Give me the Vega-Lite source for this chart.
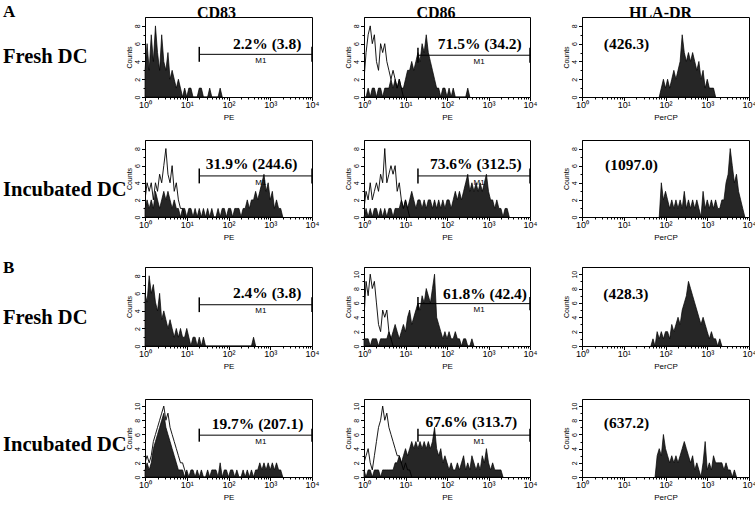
{
"$schema":"https://vega.github.io/schema/vega-lite/v6.json",
"background":"white",
"padding":{"left":3,"top":3,"right":0,"bottom":0},
"config":{
 "view":{"stroke":"#000","strokeWidth":1},
 "title":{"font":"Liberation Serif","fontWeight":"bold","fontSize":16,"color":"#000","offset":-4},
 "axis":{"grid":false,"domainColor":"#000","tickColor":"#000","labelColor":"#000","titleColor":"#000","labelFont":"Liberation Sans","titleFont":"Liberation Sans","titleFontWeight":"normal","labelOverlap":false,"labelFlush":false},
 "axisX":{"labelFontSize":9,"labelPadding":0,"tickSize":3.5,"titleFontSize":8,"titlePadding":4},
 "axisY":{"labelAngle":270,"labelAlign":"center","labelBaseline":"bottom","labelFontSize":7,"labelPadding":1,"tickSize":3.5,"titleFontSize":7,"titlePadding":1},
 "area":{"fill":"#262626","stroke":"#000","strokeWidth":0.7,"clip":true}
},
"datasets":{
"ann":[
{"p":"a1","gate":"M1","lo":26,"hi":80,"txt":"2.2% (3.8)"},
{"p":"a2","gate":"M1","lo":26,"hi":80,"txt":"71.5% (34.2)"},
{"p":"a3","txt":"(426.3)"},
{"p":"b1","gate":"M1","lo":26,"hi":80,"txt":"31.9% (244.6)"},
{"p":"b2","gate":"M1","lo":26,"hi":80,"txt":"73.6% (312.5)"},
{"p":"b3","txt":"(1097.0)"},
{"p":"c1","gate":"M1","lo":26,"hi":80,"txt":"2.4% (3.8)"},
{"p":"c2","gate":"M1","lo":26,"hi":80,"txt":"61.8% (42.4)"},
{"p":"c3","txt":"(428.3)"},
{"p":"d1","gate":"M1","lo":26,"hi":80,"txt":"19.7% (207.1)"},
{"p":"d2","gate":"M1","lo":26,"hi":80,"txt":"67.6% (313.7)"},
{"p":"d3","txt":"(637.2)"}
],
"h":[
{"p":"a1","s":"f","c":0,"n":3},{"p":"a1","s":"f","c":1,"n":6},{"p":"a1","s":"f","c":2,"n":3},{"p":"a1","s":"f","c":3,"n":7},{"p":"a1","s":"f","c":4,"n":4},{"p":"a1","s":"f","c":5,"n":8},{"p":"a1","s":"f","c":6,"n":5},{"p":"a1","s":"f","c":7,"n":3},{"p":"a1","s":"f","c":8,"n":7},{"p":"a1","s":"f","c":9,"n":4},{"p":"a1","s":"f","c":10,"n":3},{"p":"a1","s":"f","c":11,"n":5},{"p":"a1","s":"f","c":12,"n":2},{"p":"a1","s":"f","c":13,"n":3},{"p":"a1","s":"f","c":14,"n":2},{"p":"a1","s":"f","c":15,"n":1},{"p":"a1","s":"f","c":16,"n":2},{"p":"a1","s":"f","c":17,"n":1},{"p":"a1","s":"f","c":18,"n":0},{"p":"a1","s":"f","c":19,"n":1},{"p":"a1","s":"f","c":20,"n":0},{"p":"a1","s":"f","c":21,"n":1},{"p":"a1","s":"f","c":22,"n":1},{"p":"a1","s":"f","c":23,"n":0},{"p":"a1","s":"f","c":25,"n":0},{"p":"a1","s":"f","c":26,"n":1},{"p":"a1","s":"f","c":27,"n":1},{"p":"a1","s":"f","c":28,"n":0},{"p":"a1","s":"f","c":30,"n":0},{"p":"a1","s":"f","c":31,"n":1},{"p":"a1","s":"f","c":32,"n":0},{"p":"a1","s":"f","c":35,"n":0},{"p":"a1","s":"f","c":36,"n":1},{"p":"a1","s":"f","c":37,"n":0},
{"p":"a2","s":"o","c":0,"n":2},{"p":"a2","s":"o","c":1,"n":5},{"p":"a2","s":"o","c":2,"n":7},{"p":"a2","s":"o","c":3,"n":8},{"p":"a2","s":"o","c":4,"n":6},{"p":"a2","s":"o","c":5,"n":7},{"p":"a2","s":"o","c":6,"n":4},{"p":"a2","s":"o","c":7,"n":3},{"p":"a2","s":"o","c":8,"n":6},{"p":"a2","s":"o","c":9,"n":5},{"p":"a2","s":"o","c":10,"n":6},{"p":"a2","s":"o","c":11,"n":4},{"p":"a2","s":"o","c":12,"n":3},{"p":"a2","s":"o","c":13,"n":2},{"p":"a2","s":"o","c":14,"n":3},{"p":"a2","s":"o","c":15,"n":2},{"p":"a2","s":"o","c":16,"n":1},{"p":"a2","s":"o","c":17,"n":2},{"p":"a2","s":"o","c":18,"n":1},{"p":"a2","s":"o","c":19,"n":0},
{"p":"a2","s":"f","c":0,"n":0},{"p":"a2","s":"f","c":1,"n":0},{"p":"a2","s":"f","c":2,"n":1},{"p":"a2","s":"f","c":3,"n":0},{"p":"a2","s":"f","c":4,"n":1},{"p":"a2","s":"f","c":5,"n":1},{"p":"a2","s":"f","c":6,"n":0},{"p":"a2","s":"f","c":7,"n":1},{"p":"a2","s":"f","c":8,"n":1},{"p":"a2","s":"f","c":9,"n":0},{"p":"a2","s":"f","c":10,"n":1},{"p":"a2","s":"f","c":11,"n":1},{"p":"a2","s":"f","c":12,"n":1},{"p":"a2","s":"f","c":13,"n":2},{"p":"a2","s":"f","c":14,"n":1},{"p":"a2","s":"f","c":15,"n":2},{"p":"a2","s":"f","c":16,"n":1},{"p":"a2","s":"f","c":17,"n":2},{"p":"a2","s":"f","c":18,"n":1},{"p":"a2","s":"f","c":19,"n":1},{"p":"a2","s":"f","c":20,"n":2},{"p":"a2","s":"f","c":21,"n":3},{"p":"a2","s":"f","c":22,"n":3},{"p":"a2","s":"f","c":23,"n":4},{"p":"a2","s":"f","c":24,"n":3},{"p":"a2","s":"f","c":25,"n":4},{"p":"a2","s":"f","c":26,"n":5},{"p":"a2","s":"f","c":27,"n":4},{"p":"a2","s":"f","c":28,"n":6},{"p":"a2","s":"f","c":29,"n":5},{"p":"a2","s":"f","c":30,"n":7},{"p":"a2","s":"f","c":31,"n":5},{"p":"a2","s":"f","c":32,"n":4},{"p":"a2","s":"f","c":33,"n":3},{"p":"a2","s":"f","c":34,"n":2},{"p":"a2","s":"f","c":35,"n":1},{"p":"a2","s":"f","c":36,"n":1},{"p":"a2","s":"f","c":37,"n":0},{"p":"a2","s":"f","c":38,"n":1},{"p":"a2","s":"f","c":39,"n":1},{"p":"a2","s":"f","c":40,"n":0},{"p":"a2","s":"f","c":41,"n":1},{"p":"a2","s":"f","c":42,"n":0},{"p":"a2","s":"f","c":43,"n":1},{"p":"a2","s":"f","c":44,"n":0},{"p":"a2","s":"f","c":49,"n":0},{"p":"a2","s":"f","c":50,"n":1},{"p":"a2","s":"f","c":51,"n":0},
{"p":"a3","s":"f","c":37,"n":0},{"p":"a3","s":"f","c":38,"n":1},{"p":"a3","s":"f","c":39,"n":2},{"p":"a3","s":"f","c":40,"n":1},{"p":"a3","s":"f","c":41,"n":2},{"p":"a3","s":"f","c":42,"n":1},{"p":"a3","s":"f","c":43,"n":2},{"p":"a3","s":"f","c":44,"n":3},{"p":"a3","s":"f","c":45,"n":2},{"p":"a3","s":"f","c":46,"n":3},{"p":"a3","s":"f","c":47,"n":4},{"p":"a3","s":"f","c":48,"n":7},{"p":"a3","s":"f","c":49,"n":5},{"p":"a3","s":"f","c":50,"n":4},{"p":"a3","s":"f","c":51,"n":5},{"p":"a3","s":"f","c":52,"n":4},{"p":"a3","s":"f","c":53,"n":5},{"p":"a3","s":"f","c":54,"n":4},{"p":"a3","s":"f","c":55,"n":3},{"p":"a3","s":"f","c":56,"n":4},{"p":"a3","s":"f","c":57,"n":2},{"p":"a3","s":"f","c":58,"n":3},{"p":"a3","s":"f","c":59,"n":1},{"p":"a3","s":"f","c":60,"n":2},{"p":"a3","s":"f","c":61,"n":1},{"p":"a3","s":"f","c":62,"n":1},{"p":"a3","s":"f","c":63,"n":1},{"p":"a3","s":"f","c":64,"n":0},
{"p":"b1","s":"o","c":0,"n":2},{"p":"b1","s":"o","c":1,"n":4},{"p":"b1","s":"o","c":2,"n":3},{"p":"b1","s":"o","c":3,"n":4},{"p":"b1","s":"o","c":4,"n":2},{"p":"b1","s":"o","c":5,"n":4},{"p":"b1","s":"o","c":6,"n":3},{"p":"b1","s":"o","c":7,"n":5},{"p":"b1","s":"o","c":8,"n":4},{"p":"b1","s":"o","c":9,"n":6},{"p":"b1","s":"o","c":10,"n":8},{"p":"b1","s":"o","c":11,"n":5},{"p":"b1","s":"o","c":12,"n":4},{"p":"b1","s":"o","c":13,"n":6},{"p":"b1","s":"o","c":14,"n":3},{"p":"b1","s":"o","c":15,"n":4},{"p":"b1","s":"o","c":16,"n":2},{"p":"b1","s":"o","c":17,"n":1},{"p":"b1","s":"o","c":18,"n":1},{"p":"b1","s":"o","c":19,"n":0},
{"p":"b1","s":"f","c":0,"n":1},{"p":"b1","s":"f","c":1,"n":2},{"p":"b1","s":"f","c":2,"n":1},{"p":"b1","s":"f","c":3,"n":2},{"p":"b1","s":"f","c":4,"n":1},{"p":"b1","s":"f","c":5,"n":3},{"p":"b1","s":"f","c":6,"n":2},{"p":"b1","s":"f","c":7,"n":1},{"p":"b1","s":"f","c":8,"n":2},{"p":"b1","s":"f","c":9,"n":3},{"p":"b1","s":"f","c":10,"n":2},{"p":"b1","s":"f","c":11,"n":3},{"p":"b1","s":"f","c":12,"n":2},{"p":"b1","s":"f","c":13,"n":1},{"p":"b1","s":"f","c":14,"n":2},{"p":"b1","s":"f","c":15,"n":1},{"p":"b1","s":"f","c":16,"n":1},{"p":"b1","s":"f","c":17,"n":0},{"p":"b1","s":"f","c":18,"n":1},{"p":"b1","s":"f","c":19,"n":1},{"p":"b1","s":"f","c":20,"n":0},{"p":"b1","s":"f","c":21,"n":1},{"p":"b1","s":"f","c":22,"n":1},{"p":"b1","s":"f","c":23,"n":0},{"p":"b1","s":"f","c":24,"n":1},{"p":"b1","s":"f","c":25,"n":0},{"p":"b1","s":"f","c":26,"n":1},{"p":"b1","s":"f","c":27,"n":0},{"p":"b1","s":"f","c":28,"n":1},{"p":"b1","s":"f","c":29,"n":0},{"p":"b1","s":"f","c":30,"n":1},{"p":"b1","s":"f","c":31,"n":0},{"p":"b1","s":"f","c":32,"n":1},{"p":"b1","s":"f","c":33,"n":0},{"p":"b1","s":"f","c":34,"n":0},{"p":"b1","s":"f","c":35,"n":1},{"p":"b1","s":"f","c":36,"n":0},{"p":"b1","s":"f","c":37,"n":1},{"p":"b1","s":"f","c":38,"n":1},{"p":"b1","s":"f","c":39,"n":0},{"p":"b1","s":"f","c":40,"n":1},{"p":"b1","s":"f","c":41,"n":1},{"p":"b1","s":"f","c":42,"n":0},{"p":"b1","s":"f","c":43,"n":1},{"p":"b1","s":"f","c":44,"n":1},{"p":"b1","s":"f","c":45,"n":1},{"p":"b1","s":"f","c":46,"n":0},{"p":"b1","s":"f","c":47,"n":1},{"p":"b1","s":"f","c":48,"n":1},{"p":"b1","s":"f","c":49,"n":2},{"p":"b1","s":"f","c":50,"n":1},{"p":"b1","s":"f","c":51,"n":2},{"p":"b1","s":"f","c":52,"n":2},{"p":"b1","s":"f","c":53,"n":3},{"p":"b1","s":"f","c":54,"n":2},{"p":"b1","s":"f","c":55,"n":3},{"p":"b1","s":"f","c":56,"n":4},{"p":"b1","s":"f","c":57,"n":5},{"p":"b1","s":"f","c":58,"n":3},{"p":"b1","s":"f","c":59,"n":4},{"p":"b1","s":"f","c":60,"n":2},{"p":"b1","s":"f","c":61,"n":3},{"p":"b1","s":"f","c":62,"n":1},{"p":"b1","s":"f","c":63,"n":2},{"p":"b1","s":"f","c":64,"n":1},{"p":"b1","s":"f","c":65,"n":1},{"p":"b1","s":"f","c":66,"n":0},
{"p":"b2","s":"o","c":0,"n":1},{"p":"b2","s":"o","c":1,"n":3},{"p":"b2","s":"o","c":2,"n":2},{"p":"b2","s":"o","c":3,"n":4},{"p":"b2","s":"o","c":4,"n":2},{"p":"b2","s":"o","c":5,"n":3},{"p":"b2","s":"o","c":6,"n":4},{"p":"b2","s":"o","c":7,"n":3},{"p":"b2","s":"o","c":8,"n":5},{"p":"b2","s":"o","c":9,"n":4},{"p":"b2","s":"o","c":10,"n":8},{"p":"b2","s":"o","c":11,"n":4},{"p":"b2","s":"o","c":12,"n":5},{"p":"b2","s":"o","c":13,"n":6},{"p":"b2","s":"o","c":14,"n":5},{"p":"b2","s":"o","c":15,"n":6},{"p":"b2","s":"o","c":16,"n":3},{"p":"b2","s":"o","c":17,"n":4},{"p":"b2","s":"o","c":18,"n":2},{"p":"b2","s":"o","c":19,"n":1},{"p":"b2","s":"o","c":20,"n":2},{"p":"b2","s":"o","c":21,"n":1},{"p":"b2","s":"o","c":22,"n":0},
{"p":"b2","s":"f","c":0,"n":0},{"p":"b2","s":"f","c":1,"n":1},{"p":"b2","s":"f","c":2,"n":0},{"p":"b2","s":"f","c":3,"n":1},{"p":"b2","s":"f","c":4,"n":0},{"p":"b2","s":"f","c":5,"n":1},{"p":"b2","s":"f","c":6,"n":1},{"p":"b2","s":"f","c":7,"n":0},{"p":"b2","s":"f","c":8,"n":1},{"p":"b2","s":"f","c":9,"n":0},{"p":"b2","s":"f","c":10,"n":1},{"p":"b2","s":"f","c":11,"n":0},{"p":"b2","s":"f","c":12,"n":1},{"p":"b2","s":"f","c":13,"n":1},{"p":"b2","s":"f","c":14,"n":0},{"p":"b2","s":"f","c":15,"n":1},{"p":"b2","s":"f","c":16,"n":1},{"p":"b2","s":"f","c":17,"n":1},{"p":"b2","s":"f","c":18,"n":2},{"p":"b2","s":"f","c":19,"n":1},{"p":"b2","s":"f","c":20,"n":2},{"p":"b2","s":"f","c":21,"n":1},{"p":"b2","s":"f","c":22,"n":2},{"p":"b2","s":"f","c":23,"n":3},{"p":"b2","s":"f","c":24,"n":2},{"p":"b2","s":"f","c":25,"n":1},{"p":"b2","s":"f","c":26,"n":2},{"p":"b2","s":"f","c":27,"n":2},{"p":"b2","s":"f","c":28,"n":1},{"p":"b2","s":"f","c":29,"n":2},{"p":"b2","s":"f","c":30,"n":1},{"p":"b2","s":"f","c":31,"n":2},{"p":"b2","s":"f","c":32,"n":2},{"p":"b2","s":"f","c":33,"n":1},{"p":"b2","s":"f","c":34,"n":2},{"p":"b2","s":"f","c":35,"n":1},{"p":"b2","s":"f","c":36,"n":2},{"p":"b2","s":"f","c":37,"n":1},{"p":"b2","s":"f","c":38,"n":2},{"p":"b2","s":"f","c":39,"n":1},{"p":"b2","s":"f","c":40,"n":2},{"p":"b2","s":"f","c":41,"n":2},{"p":"b2","s":"f","c":42,"n":1},{"p":"b2","s":"f","c":43,"n":2},{"p":"b2","s":"f","c":44,"n":3},{"p":"b2","s":"f","c":45,"n":2},{"p":"b2","s":"f","c":46,"n":3},{"p":"b2","s":"f","c":47,"n":2},{"p":"b2","s":"f","c":48,"n":3},{"p":"b2","s":"f","c":49,"n":4},{"p":"b2","s":"f","c":50,"n":5},{"p":"b2","s":"f","c":51,"n":3},{"p":"b2","s":"f","c":52,"n":4},{"p":"b2","s":"f","c":53,"n":3},{"p":"b2","s":"f","c":54,"n":4},{"p":"b2","s":"f","c":55,"n":3},{"p":"b2","s":"f","c":56,"n":4},{"p":"b2","s":"f","c":57,"n":3},{"p":"b2","s":"f","c":58,"n":4},{"p":"b2","s":"f","c":59,"n":5},{"p":"b2","s":"f","c":60,"n":3},{"p":"b2","s":"f","c":61,"n":2},{"p":"b2","s":"f","c":62,"n":2},{"p":"b2","s":"f","c":63,"n":1},{"p":"b2","s":"f","c":64,"n":2},{"p":"b2","s":"f","c":65,"n":1},{"p":"b2","s":"f","c":66,"n":1},{"p":"b2","s":"f","c":67,"n":0},{"p":"b2","s":"f","c":68,"n":1},{"p":"b2","s":"f","c":69,"n":1},{"p":"b2","s":"f","c":70,"n":0},
{"p":"b3","s":"f","c":37,"n":0},{"p":"b3","s":"f","c":38,"n":4},{"p":"b3","s":"f","c":39,"n":2},{"p":"b3","s":"f","c":40,"n":3},{"p":"b3","s":"f","c":41,"n":2},{"p":"b3","s":"f","c":42,"n":1},{"p":"b3","s":"f","c":43,"n":2},{"p":"b3","s":"f","c":44,"n":1},{"p":"b3","s":"f","c":45,"n":2},{"p":"b3","s":"f","c":46,"n":1},{"p":"b3","s":"f","c":47,"n":2},{"p":"b3","s":"f","c":48,"n":1},{"p":"b3","s":"f","c":49,"n":3},{"p":"b3","s":"f","c":50,"n":1},{"p":"b3","s":"f","c":51,"n":2},{"p":"b3","s":"f","c":52,"n":1},{"p":"b3","s":"f","c":53,"n":2},{"p":"b3","s":"f","c":54,"n":1},{"p":"b3","s":"f","c":55,"n":2},{"p":"b3","s":"f","c":56,"n":1},{"p":"b3","s":"f","c":57,"n":0},{"p":"b3","s":"f","c":58,"n":3},{"p":"b3","s":"f","c":59,"n":1},{"p":"b3","s":"f","c":60,"n":2},{"p":"b3","s":"f","c":61,"n":1},{"p":"b3","s":"f","c":62,"n":2},{"p":"b3","s":"f","c":63,"n":1},{"p":"b3","s":"f","c":64,"n":2},{"p":"b3","s":"f","c":65,"n":1},{"p":"b3","s":"f","c":66,"n":1},{"p":"b3","s":"f","c":67,"n":2},{"p":"b3","s":"f","c":68,"n":2},{"p":"b3","s":"f","c":69,"n":4},{"p":"b3","s":"f","c":70,"n":5},{"p":"b3","s":"f","c":71,"n":8},{"p":"b3","s":"f","c":72,"n":6},{"p":"b3","s":"f","c":73,"n":4},{"p":"b3","s":"f","c":74,"n":5},{"p":"b3","s":"f","c":75,"n":3},{"p":"b3","s":"f","c":76,"n":2},{"p":"b3","s":"f","c":77,"n":1},{"p":"b3","s":"f","c":78,"n":0},
{"p":"c1","s":"f","c":0,"n":6},{"p":"c1","s":"f","c":1,"n":5},{"p":"c1","s":"f","c":2,"n":8},{"p":"c1","s":"f","c":3,"n":6},{"p":"c1","s":"f","c":4,"n":7},{"p":"c1","s":"f","c":5,"n":5},{"p":"c1","s":"f","c":6,"n":4},{"p":"c1","s":"f","c":7,"n":6},{"p":"c1","s":"f","c":8,"n":3},{"p":"c1","s":"f","c":9,"n":4},{"p":"c1","s":"f","c":10,"n":3},{"p":"c1","s":"f","c":11,"n":2},{"p":"c1","s":"f","c":12,"n":3},{"p":"c1","s":"f","c":13,"n":2},{"p":"c1","s":"f","c":14,"n":1},{"p":"c1","s":"f","c":15,"n":2},{"p":"c1","s":"f","c":16,"n":1},{"p":"c1","s":"f","c":17,"n":2},{"p":"c1","s":"f","c":18,"n":1},{"p":"c1","s":"f","c":19,"n":1},{"p":"c1","s":"f","c":20,"n":2},{"p":"c1","s":"f","c":21,"n":1},{"p":"c1","s":"f","c":22,"n":0},{"p":"c1","s":"f","c":23,"n":1},{"p":"c1","s":"f","c":24,"n":1},{"p":"c1","s":"f","c":25,"n":0},{"p":"c1","s":"f","c":26,"n":1},{"p":"c1","s":"f","c":27,"n":0},{"p":"c1","s":"f","c":28,"n":1},{"p":"c1","s":"f","c":29,"n":0},{"p":"c1","s":"f","c":51,"n":0},{"p":"c1","s":"f","c":52,"n":1},{"p":"c1","s":"f","c":53,"n":0},
{"p":"c2","s":"o","c":0,"n":4},{"p":"c2","s":"o","c":1,"n":9},{"p":"c2","s":"o","c":2,"n":7},{"p":"c2","s":"o","c":3,"n":10},{"p":"c2","s":"o","c":4,"n":8},{"p":"c2","s":"o","c":5,"n":9},{"p":"c2","s":"o","c":6,"n":6},{"p":"c2","s":"o","c":7,"n":3},{"p":"c2","s":"o","c":8,"n":2},{"p":"c2","s":"o","c":9,"n":5},{"p":"c2","s":"o","c":10,"n":4},{"p":"c2","s":"o","c":11,"n":5},{"p":"c2","s":"o","c":12,"n":2},{"p":"c2","s":"o","c":13,"n":1},{"p":"c2","s":"o","c":14,"n":0},
{"p":"c2","s":"f","c":0,"n":1},{"p":"c2","s":"f","c":1,"n":1},{"p":"c2","s":"f","c":2,"n":1},{"p":"c2","s":"f","c":3,"n":0},{"p":"c2","s":"f","c":4,"n":1},{"p":"c2","s":"f","c":5,"n":1},{"p":"c2","s":"f","c":6,"n":1},{"p":"c2","s":"f","c":7,"n":0},{"p":"c2","s":"f","c":8,"n":1},{"p":"c2","s":"f","c":9,"n":1},{"p":"c2","s":"f","c":10,"n":1},{"p":"c2","s":"f","c":11,"n":1},{"p":"c2","s":"f","c":12,"n":2},{"p":"c2","s":"f","c":13,"n":1},{"p":"c2","s":"f","c":14,"n":2},{"p":"c2","s":"f","c":15,"n":3},{"p":"c2","s":"f","c":16,"n":2},{"p":"c2","s":"f","c":17,"n":1},{"p":"c2","s":"f","c":18,"n":2},{"p":"c2","s":"f","c":19,"n":3},{"p":"c2","s":"f","c":20,"n":2},{"p":"c2","s":"f","c":21,"n":4},{"p":"c2","s":"f","c":22,"n":5},{"p":"c2","s":"f","c":23,"n":3},{"p":"c2","s":"f","c":24,"n":4},{"p":"c2","s":"f","c":25,"n":5},{"p":"c2","s":"f","c":26,"n":6},{"p":"c2","s":"f","c":27,"n":5},{"p":"c2","s":"f","c":28,"n":7},{"p":"c2","s":"f","c":29,"n":6},{"p":"c2","s":"f","c":30,"n":8},{"p":"c2","s":"f","c":31,"n":7},{"p":"c2","s":"f","c":32,"n":6},{"p":"c2","s":"f","c":33,"n":8},{"p":"c2","s":"f","c":34,"n":10},{"p":"c2","s":"f","c":35,"n":4},{"p":"c2","s":"f","c":36,"n":3},{"p":"c2","s":"f","c":37,"n":2},{"p":"c2","s":"f","c":38,"n":1},{"p":"c2","s":"f","c":39,"n":2},{"p":"c2","s":"f","c":40,"n":1},{"p":"c2","s":"f","c":41,"n":2},{"p":"c2","s":"f","c":42,"n":1},{"p":"c2","s":"f","c":43,"n":1},{"p":"c2","s":"f","c":44,"n":2},{"p":"c2","s":"f","c":45,"n":1},{"p":"c2","s":"f","c":46,"n":1},{"p":"c2","s":"f","c":47,"n":0},{"p":"c2","s":"f","c":48,"n":1},{"p":"c2","s":"f","c":49,"n":1},{"p":"c2","s":"f","c":50,"n":0},{"p":"c2","s":"f","c":51,"n":0},{"p":"c2","s":"f","c":52,"n":1},{"p":"c2","s":"f","c":53,"n":0},
{"p":"c3","s":"f","c":33,"n":0},{"p":"c3","s":"f","c":34,"n":1},{"p":"c3","s":"f","c":35,"n":0},{"p":"c3","s":"f","c":36,"n":2},{"p":"c3","s":"f","c":37,"n":1},{"p":"c3","s":"f","c":38,"n":2},{"p":"c3","s":"f","c":39,"n":1},{"p":"c3","s":"f","c":40,"n":2},{"p":"c3","s":"f","c":41,"n":2},{"p":"c3","s":"f","c":42,"n":1},{"p":"c3","s":"f","c":43,"n":3},{"p":"c3","s":"f","c":44,"n":2},{"p":"c3","s":"f","c":45,"n":3},{"p":"c3","s":"f","c":46,"n":4},{"p":"c3","s":"f","c":47,"n":3},{"p":"c3","s":"f","c":48,"n":5},{"p":"c3","s":"f","c":49,"n":6},{"p":"c3","s":"f","c":50,"n":7},{"p":"c3","s":"f","c":51,"n":9},{"p":"c3","s":"f","c":52,"n":8},{"p":"c3","s":"f","c":53,"n":7},{"p":"c3","s":"f","c":54,"n":6},{"p":"c3","s":"f","c":55,"n":5},{"p":"c3","s":"f","c":56,"n":4},{"p":"c3","s":"f","c":57,"n":3},{"p":"c3","s":"f","c":58,"n":4},{"p":"c3","s":"f","c":59,"n":3},{"p":"c3","s":"f","c":60,"n":2},{"p":"c3","s":"f","c":61,"n":1},{"p":"c3","s":"f","c":62,"n":2},{"p":"c3","s":"f","c":63,"n":1},{"p":"c3","s":"f","c":64,"n":1},{"p":"c3","s":"f","c":65,"n":0},{"p":"c3","s":"f","c":66,"n":1},{"p":"c3","s":"f","c":67,"n":0},
{"p":"d1","s":"o","c":0,"n":2},{"p":"d1","s":"o","c":1,"n":3},{"p":"d1","s":"o","c":2,"n":2},{"p":"d1","s":"o","c":3,"n":3},{"p":"d1","s":"o","c":4,"n":5},{"p":"d1","s":"o","c":5,"n":6},{"p":"d1","s":"o","c":6,"n":7},{"p":"d1","s":"o","c":7,"n":8},{"p":"d1","s":"o","c":8,"n":9},{"p":"d1","s":"o","c":9,"n":10},{"p":"d1","s":"o","c":10,"n":8},{"p":"d1","s":"o","c":11,"n":9},{"p":"d1","s":"o","c":12,"n":7},{"p":"d1","s":"o","c":13,"n":6},{"p":"d1","s":"o","c":14,"n":5},{"p":"d1","s":"o","c":15,"n":4},{"p":"d1","s":"o","c":16,"n":3},{"p":"d1","s":"o","c":17,"n":2},{"p":"d1","s":"o","c":18,"n":2},{"p":"d1","s":"o","c":19,"n":1},{"p":"d1","s":"o","c":20,"n":0},
{"p":"d1","s":"f","c":0,"n":1},{"p":"d1","s":"f","c":1,"n":2},{"p":"d1","s":"f","c":2,"n":1},{"p":"d1","s":"f","c":3,"n":2},{"p":"d1","s":"f","c":4,"n":4},{"p":"d1","s":"f","c":5,"n":5},{"p":"d1","s":"f","c":6,"n":6},{"p":"d1","s":"f","c":7,"n":7},{"p":"d1","s":"f","c":8,"n":8},{"p":"d1","s":"f","c":9,"n":9},{"p":"d1","s":"f","c":10,"n":7},{"p":"d1","s":"f","c":11,"n":6},{"p":"d1","s":"f","c":12,"n":5},{"p":"d1","s":"f","c":13,"n":4},{"p":"d1","s":"f","c":14,"n":3},{"p":"d1","s":"f","c":15,"n":2},{"p":"d1","s":"f","c":16,"n":1},{"p":"d1","s":"f","c":17,"n":1},{"p":"d1","s":"f","c":18,"n":1},{"p":"d1","s":"f","c":19,"n":0},{"p":"d1","s":"f","c":20,"n":1},{"p":"d1","s":"f","c":21,"n":0},{"p":"d1","s":"f","c":22,"n":1},{"p":"d1","s":"f","c":23,"n":1},{"p":"d1","s":"f","c":24,"n":0},{"p":"d1","s":"f","c":25,"n":1},{"p":"d1","s":"f","c":26,"n":0},{"p":"d1","s":"f","c":27,"n":1},{"p":"d1","s":"f","c":28,"n":0},{"p":"d1","s":"f","c":29,"n":0},{"p":"d1","s":"f","c":30,"n":1},{"p":"d1","s":"f","c":31,"n":0},{"p":"d1","s":"f","c":32,"n":1},{"p":"d1","s":"f","c":33,"n":1},{"p":"d1","s":"f","c":34,"n":1},{"p":"d1","s":"f","c":35,"n":0},{"p":"d1","s":"f","c":36,"n":2},{"p":"d1","s":"f","c":37,"n":0},{"p":"d1","s":"f","c":38,"n":1},{"p":"d1","s":"f","c":39,"n":1},{"p":"d1","s":"f","c":40,"n":0},{"p":"d1","s":"f","c":41,"n":1},{"p":"d1","s":"f","c":42,"n":1},{"p":"d1","s":"f","c":43,"n":0},{"p":"d1","s":"f","c":44,"n":1},{"p":"d1","s":"f","c":45,"n":0},{"p":"d1","s":"f","c":46,"n":0},{"p":"d1","s":"f","c":47,"n":1},{"p":"d1","s":"f","c":48,"n":0},{"p":"d1","s":"f","c":49,"n":1},{"p":"d1","s":"f","c":50,"n":0},{"p":"d1","s":"f","c":51,"n":1},{"p":"d1","s":"f","c":52,"n":0},{"p":"d1","s":"f","c":53,"n":1},{"p":"d1","s":"f","c":54,"n":1},{"p":"d1","s":"f","c":55,"n":2},{"p":"d1","s":"f","c":56,"n":1},{"p":"d1","s":"f","c":57,"n":2},{"p":"d1","s":"f","c":58,"n":1},{"p":"d1","s":"f","c":59,"n":2},{"p":"d1","s":"f","c":60,"n":1},{"p":"d1","s":"f","c":61,"n":2},{"p":"d1","s":"f","c":62,"n":1},{"p":"d1","s":"f","c":63,"n":2},{"p":"d1","s":"f","c":64,"n":1},{"p":"d1","s":"f","c":65,"n":1},{"p":"d1","s":"f","c":66,"n":0},
{"p":"d2","s":"o","c":0,"n":2},{"p":"d2","s":"o","c":1,"n":3},{"p":"d2","s":"o","c":2,"n":4},{"p":"d2","s":"o","c":3,"n":2},{"p":"d2","s":"o","c":4,"n":1},{"p":"d2","s":"o","c":5,"n":3},{"p":"d2","s":"o","c":6,"n":5},{"p":"d2","s":"o","c":7,"n":7},{"p":"d2","s":"o","c":8,"n":8},{"p":"d2","s":"o","c":9,"n":10},{"p":"d2","s":"o","c":10,"n":8},{"p":"d2","s":"o","c":11,"n":9},{"p":"d2","s":"o","c":12,"n":7},{"p":"d2","s":"o","c":13,"n":6},{"p":"d2","s":"o","c":14,"n":5},{"p":"d2","s":"o","c":15,"n":4},{"p":"d2","s":"o","c":16,"n":3},{"p":"d2","s":"o","c":17,"n":3},{"p":"d2","s":"o","c":18,"n":2},{"p":"d2","s":"o","c":19,"n":1},{"p":"d2","s":"o","c":20,"n":2},{"p":"d2","s":"o","c":21,"n":1},{"p":"d2","s":"o","c":22,"n":1},{"p":"d2","s":"o","c":23,"n":0},
{"p":"d2","s":"f","c":0,"n":1},{"p":"d2","s":"f","c":1,"n":0},{"p":"d2","s":"f","c":2,"n":1},{"p":"d2","s":"f","c":3,"n":1},{"p":"d2","s":"f","c":4,"n":0},{"p":"d2","s":"f","c":5,"n":1},{"p":"d2","s":"f","c":6,"n":1},{"p":"d2","s":"f","c":7,"n":1},{"p":"d2","s":"f","c":8,"n":0},{"p":"d2","s":"f","c":9,"n":1},{"p":"d2","s":"f","c":10,"n":1},{"p":"d2","s":"f","c":11,"n":1},{"p":"d2","s":"f","c":12,"n":1},{"p":"d2","s":"f","c":13,"n":1},{"p":"d2","s":"f","c":14,"n":1},{"p":"d2","s":"f","c":15,"n":2},{"p":"d2","s":"f","c":16,"n":2},{"p":"d2","s":"f","c":17,"n":3},{"p":"d2","s":"f","c":18,"n":2},{"p":"d2","s":"f","c":19,"n":3},{"p":"d2","s":"f","c":20,"n":4},{"p":"d2","s":"f","c":21,"n":3},{"p":"d2","s":"f","c":22,"n":4},{"p":"d2","s":"f","c":23,"n":5},{"p":"d2","s":"f","c":24,"n":4},{"p":"d2","s":"f","c":25,"n":5},{"p":"d2","s":"f","c":26,"n":4},{"p":"d2","s":"f","c":27,"n":5},{"p":"d2","s":"f","c":28,"n":4},{"p":"d2","s":"f","c":29,"n":5},{"p":"d2","s":"f","c":30,"n":4},{"p":"d2","s":"f","c":31,"n":5},{"p":"d2","s":"f","c":32,"n":4},{"p":"d2","s":"f","c":33,"n":5},{"p":"d2","s":"f","c":34,"n":7},{"p":"d2","s":"f","c":35,"n":4},{"p":"d2","s":"f","c":36,"n":3},{"p":"d2","s":"f","c":37,"n":4},{"p":"d2","s":"f","c":38,"n":2},{"p":"d2","s":"f","c":39,"n":3},{"p":"d2","s":"f","c":40,"n":2},{"p":"d2","s":"f","c":41,"n":1},{"p":"d2","s":"f","c":42,"n":2},{"p":"d2","s":"f","c":43,"n":1},{"p":"d2","s":"f","c":44,"n":1},{"p":"d2","s":"f","c":45,"n":2},{"p":"d2","s":"f","c":46,"n":1},{"p":"d2","s":"f","c":47,"n":2},{"p":"d2","s":"f","c":48,"n":3},{"p":"d2","s":"f","c":49,"n":1},{"p":"d2","s":"f","c":50,"n":2},{"p":"d2","s":"f","c":51,"n":1},{"p":"d2","s":"f","c":52,"n":3},{"p":"d2","s":"f","c":53,"n":2},{"p":"d2","s":"f","c":54,"n":1},{"p":"d2","s":"f","c":55,"n":2},{"p":"d2","s":"f","c":56,"n":1},{"p":"d2","s":"f","c":57,"n":3},{"p":"d2","s":"f","c":58,"n":2},{"p":"d2","s":"f","c":59,"n":4},{"p":"d2","s":"f","c":60,"n":2},{"p":"d2","s":"f","c":61,"n":1},{"p":"d2","s":"f","c":62,"n":2},{"p":"d2","s":"f","c":63,"n":1},{"p":"d2","s":"f","c":64,"n":1},{"p":"d2","s":"f","c":65,"n":1},{"p":"d2","s":"f","c":66,"n":1},{"p":"d2","s":"f","c":67,"n":0},
{"p":"d3","s":"f","c":35,"n":0},{"p":"d3","s":"f","c":36,"n":3},{"p":"d3","s":"f","c":37,"n":4},{"p":"d3","s":"f","c":38,"n":3},{"p":"d3","s":"f","c":39,"n":6},{"p":"d3","s":"f","c":40,"n":4},{"p":"d3","s":"f","c":41,"n":3},{"p":"d3","s":"f","c":42,"n":2},{"p":"d3","s":"f","c":43,"n":3},{"p":"d3","s":"f","c":44,"n":2},{"p":"d3","s":"f","c":45,"n":3},{"p":"d3","s":"f","c":46,"n":2},{"p":"d3","s":"f","c":47,"n":3},{"p":"d3","s":"f","c":48,"n":4},{"p":"d3","s":"f","c":49,"n":5},{"p":"d3","s":"f","c":50,"n":4},{"p":"d3","s":"f","c":51,"n":3},{"p":"d3","s":"f","c":52,"n":2},{"p":"d3","s":"f","c":53,"n":3},{"p":"d3","s":"f","c":54,"n":1},{"p":"d3","s":"f","c":55,"n":2},{"p":"d3","s":"f","c":56,"n":1},{"p":"d3","s":"f","c":57,"n":0},{"p":"d3","s":"f","c":58,"n":2},{"p":"d3","s":"f","c":59,"n":5},{"p":"d3","s":"f","c":60,"n":1},{"p":"d3","s":"f","c":61,"n":2},{"p":"d3","s":"f","c":62,"n":1},{"p":"d3","s":"f","c":63,"n":3},{"p":"d3","s":"f","c":64,"n":2},{"p":"d3","s":"f","c":65,"n":2},{"p":"d3","s":"f","c":66,"n":2},{"p":"d3","s":"f","c":67,"n":2},{"p":"d3","s":"f","c":68,"n":1},{"p":"d3","s":"f","c":69,"n":2},{"p":"d3","s":"f","c":70,"n":1},{"p":"d3","s":"f","c":71,"n":1},{"p":"d3","s":"f","c":72,"n":0},{"p":"d3","s":"f","c":73,"n":1},{"p":"d3","s":"f","c":74,"n":0}
]},
"columns":4,
"spacing":{"row":0,"column":52},
"bounds":"flush",
"align":"each",
"concat":[
{"width":90,"height":80,"view":{"stroke":null},"data":{"values":[{"sec":"A","row":"Fresh DC"}]},"layer":[
 {"mark":{"type":"text","align":"left","font":"Liberation Serif","fontWeight":"bold","fontSize":17},"encoding":{"x":{"datum":0,"type":"quantitative","scale":{"domain":[0,1]},"axis":null},"y":{"datum":1.06,"type":"quantitative","scale":{"domain":[0,1]},"axis":null},"text":{"field":"sec"}}},
 {"mark":{"type":"text","align":"left","font":"Liberation Serif","fontWeight":"bold","fontSize":20.5},"encoding":{"x":{"datum":0,"type":"quantitative"},"y":{"datum":0.5,"type":"quantitative"},"text":{"field":"row"}}}]},
{"width":167,"height":80,"title":{"text":"CD83","dx":-12},"resolve":{"axis":{"x":"independent","y":"independent"}},"layer":[
 {"data":{"name":"h"},"transform":[{"filter":"datum.p=='a1'&&datum.s=='f'"}],"mark":"area",
  "encoding":{"x":{"field":"c","type":"quantitative","scale":{"domain":[0,80]},"axis":{"title":"PE","values":[0,20,40,60,80],"labelExpr":"datum.value==0?'10⁰':datum.value==20?'10¹':datum.value==40?'10²':datum.value==60?'10³':'10⁴'"}},
  "y":{"field":"n","type":"quantitative","scale":{"domain":[0,8.4]},"axis":{"title":"Counts","values":[0,2,4,6,8]}}}},
 {"data":{"name":"h"},"transform":[{"filter":"datum.p=='a1'"}],"mark":{"type":"point","opacity":0},
  "encoding":{"x":{"field":"c","type":"quantitative","axis":{"orient":"bottom","title":null,"labels":false,"domain":false,"tickSize":2,"values":[6.02,9.54,12.04,13.98,15.56,16.9,18.06,19.08,26.02,29.54,32.04,33.98,35.56,36.9,38.06,39.08,46.02,49.54,52.04,53.98,55.56,56.9,58.06,59.08,66.02,69.54,72.04,73.98,75.56,76.9,78.06,79.08]}},
  "y":{"field":"n","type":"quantitative","axis":{"orient":"left","title":null,"labels":false,"domain":false,"tickSize":2,"values":[1,3,5,7]}}}},
 {"data":{"name":"ann"},"transform":[{"filter":"datum.p=='a1'"}],"layer":[
  {"mark":{"type":"rule","color":"#000","strokeWidth":1},"encoding":{"x":{"field":"lo","type":"quantitative","axis":null},"x2":{"field":"hi"},"y":{"datum":4.8,"type":"quantitative","axis":null}}},
  {"transform":[{"fold":["lo","hi"],"as":["k","v"]}],"mark":{"type":"rule","color":"#000","strokeWidth":1.5},"encoding":{"x":{"field":"v","type":"quantitative","axis":null},"y":{"datum":3.96,"type":"quantitative","axis":null},"y2":{"datum":5.64}}},
  {"mark":{"type":"text","font":"Liberation Sans","fontSize":8},"encoding":{"x":{"datum":55.5,"type":"quantitative","axis":null},"y":{"datum":4.05,"type":"quantitative","axis":null},"text":{"field":"gate"}}},
  {"mark":{"type":"text","font":"Liberation Serif","fontWeight":"bold","fontSize":15.5},"encoding":{"x":{"datum":58.5,"type":"quantitative","axis":null},"y":{"datum":6.0,"type":"quantitative","axis":null},"text":{"field":"txt"}}}]}]},
{"width":166,"height":80,"title":{"text":"CD86","dx":-11},"resolve":{"axis":{"x":"independent","y":"independent"}},"layer":[
 {"data":{"name":"h"},"transform":[{"filter":"datum.p=='a2'&&datum.s=='f'"}],"mark":"area",
  "encoding":{"x":{"field":"c","type":"quantitative","scale":{"domain":[0,80]},"axis":{"title":"PE","values":[0,20,40,60,80],"labelExpr":"datum.value==0?'10⁰':datum.value==20?'10¹':datum.value==40?'10²':datum.value==60?'10³':'10⁴'"}},
  "y":{"field":"n","type":"quantitative","scale":{"domain":[0,8.4]},"axis":{"title":"Counts","values":[0,2,4,6,8]}}}},
 {"data":{"name":"h"},"transform":[{"filter":"datum.p=='a2'"}],"mark":{"type":"point","opacity":0},
  "encoding":{"x":{"field":"c","type":"quantitative","axis":{"orient":"bottom","title":null,"labels":false,"domain":false,"tickSize":2,"values":[6.02,9.54,12.04,13.98,15.56,16.9,18.06,19.08,26.02,29.54,32.04,33.98,35.56,36.9,38.06,39.08,46.02,49.54,52.04,53.98,55.56,56.9,58.06,59.08,66.02,69.54,72.04,73.98,75.56,76.9,78.06,79.08]}},
  "y":{"field":"n","type":"quantitative","axis":{"orient":"left","title":null,"labels":false,"domain":false,"tickSize":2,"values":[1,3,5,7]}}}},
 {"data":{"name":"h"},"transform":[{"filter":"datum.p=='a2'&&datum.s=='o'"}],"mark":{"type":"line","color":"#000","strokeWidth":0.9,"clip":true},"encoding":{"x":{"field":"c","type":"quantitative","axis":null},"y":{"field":"n","type":"quantitative","axis":null}}},
 {"data":{"name":"ann"},"transform":[{"filter":"datum.p=='a2'"}],"layer":[
  {"mark":{"type":"rule","color":"#000","strokeWidth":1},"encoding":{"x":{"field":"lo","type":"quantitative","axis":null},"x2":{"field":"hi"},"y":{"datum":4.7,"type":"quantitative","axis":null}}},
  {"transform":[{"fold":["lo","hi"],"as":["k","v"]}],"mark":{"type":"rule","color":"#000","strokeWidth":1.5},"encoding":{"x":{"field":"v","type":"quantitative","axis":null},"y":{"datum":3.86,"type":"quantitative","axis":null},"y2":{"datum":5.54}}},
  {"mark":{"type":"text","font":"Liberation Sans","fontSize":8},"encoding":{"x":{"datum":55.5,"type":"quantitative","axis":null},"y":{"datum":3.95,"type":"quantitative","axis":null},"text":{"field":"gate"}}},
  {"mark":{"type":"text","font":"Liberation Serif","fontWeight":"bold","fontSize":15.5},"encoding":{"x":{"datum":55.8,"type":"quantitative","axis":null},"y":{"datum":6.0,"type":"quantitative","axis":null},"text":{"field":"txt"}}}]}]},
{"width":167,"height":80,"title":{"text":"HLA-DR","dx":-5},"resolve":{"axis":{"x":"independent","y":"independent"}},"layer":[
 {"data":{"name":"h"},"transform":[{"filter":"datum.p=='a3'&&datum.s=='f'"}],"mark":"area",
  "encoding":{"x":{"field":"c","type":"quantitative","scale":{"domain":[0,80]},"axis":{"title":"PerCP","values":[0,20,40,60,80],"labelExpr":"datum.value==0?'10⁰':datum.value==20?'10¹':datum.value==40?'10²':datum.value==60?'10³':'10⁴'"}},
  "y":{"field":"n","type":"quantitative","scale":{"domain":[0,8.4]},"axis":{"title":"Counts","values":[0,2,4,6,8]}}}},
 {"data":{"name":"h"},"transform":[{"filter":"datum.p=='a3'"}],"mark":{"type":"point","opacity":0},
  "encoding":{"x":{"field":"c","type":"quantitative","axis":{"orient":"bottom","title":null,"labels":false,"domain":false,"tickSize":2,"values":[6.02,9.54,12.04,13.98,15.56,16.9,18.06,19.08,26.02,29.54,32.04,33.98,35.56,36.9,38.06,39.08,46.02,49.54,52.04,53.98,55.56,56.9,58.06,59.08,66.02,69.54,72.04,73.98,75.56,76.9,78.06,79.08]}},
  "y":{"field":"n","type":"quantitative","axis":{"orient":"left","title":null,"labels":false,"domain":false,"tickSize":2,"values":[1,3,5,7]}}}},
 {"data":{"name":"ann"},"transform":[{"filter":"datum.p=='a3'"}],"mark":{"type":"text","font":"Liberation Serif","fontWeight":"bold","fontSize":15.5},"encoding":{"x":{"datum":21.3,"type":"quantitative","axis":null},"y":{"datum":6.0,"type":"quantitative","axis":null},"text":{"field":"txt"}}}]},
{"width":1,"height":43,"view":{"stroke":null},"data":{"values":[]},"mark":"point"},
{"width":1,"height":43,"view":{"stroke":null},"data":{"values":[]},"mark":"point"},
{"width":1,"height":43,"view":{"stroke":null},"data":{"values":[]},"mark":"point"},
{"width":1,"height":43,"view":{"stroke":null},"data":{"values":[]},"mark":"point"},
{"width":90,"height":77,"view":{"stroke":null},"data":{"values":[{"row":"Incubated DC"}]},"layer":[
 {"mark":{"type":"text","align":"left","font":"Liberation Serif","fontWeight":"bold","fontSize":20.5},"encoding":{"x":{"datum":0,"type":"quantitative","scale":{"domain":[0,1]},"axis":null},"y":{"datum":0.35,"type":"quantitative","scale":{"domain":[0,1]},"axis":null},"text":{"field":"row"}}}]},
{"width":167,"height":77,"resolve":{"axis":{"x":"independent","y":"independent"}},"layer":[
 {"data":{"name":"h"},"transform":[{"filter":"datum.p=='b1'&&datum.s=='f'"}],"mark":"area",
  "encoding":{"x":{"field":"c","type":"quantitative","scale":{"domain":[0,80]},"axis":{"title":"PE","values":[0,20,40,60,80],"labelExpr":"datum.value==0?'10⁰':datum.value==20?'10¹':datum.value==40?'10²':datum.value==60?'10³':'10⁴'"}},
  "y":{"field":"n","type":"quantitative","scale":{"domain":[0,8.4]},"axis":{"title":"Counts","values":[0,2,4,6,8]}}}},
 {"data":{"name":"h"},"transform":[{"filter":"datum.p=='b1'"}],"mark":{"type":"point","opacity":0},
  "encoding":{"x":{"field":"c","type":"quantitative","axis":{"orient":"bottom","title":null,"labels":false,"domain":false,"tickSize":2,"values":[6.02,9.54,12.04,13.98,15.56,16.9,18.06,19.08,26.02,29.54,32.04,33.98,35.56,36.9,38.06,39.08,46.02,49.54,52.04,53.98,55.56,56.9,58.06,59.08,66.02,69.54,72.04,73.98,75.56,76.9,78.06,79.08]}},
  "y":{"field":"n","type":"quantitative","axis":{"orient":"left","title":null,"labels":false,"domain":false,"tickSize":2,"values":[1,3,5,7]}}}},
 {"data":{"name":"h"},"transform":[{"filter":"datum.p=='b1'&&datum.s=='o'"}],"mark":{"type":"line","color":"#000","strokeWidth":0.9,"clip":true},"encoding":{"x":{"field":"c","type":"quantitative","axis":null},"y":{"field":"n","type":"quantitative","axis":null}}},
 {"data":{"name":"ann"},"transform":[{"filter":"datum.p=='b1'"}],"layer":[
  {"mark":{"type":"rule","color":"#000","strokeWidth":1},"encoding":{"x":{"field":"lo","type":"quantitative","axis":null},"x2":{"field":"hi"},"y":{"datum":4.8,"type":"quantitative","axis":null}}},
  {"transform":[{"fold":["lo","hi"],"as":["k","v"]}],"mark":{"type":"rule","color":"#000","strokeWidth":1.5},"encoding":{"x":{"field":"v","type":"quantitative","axis":null},"y":{"datum":3.93,"type":"quantitative","axis":null},"y2":{"datum":5.67}}},
  {"mark":{"type":"text","font":"Liberation Sans","fontSize":8},"encoding":{"x":{"datum":55.5,"type":"quantitative","axis":null},"y":{"datum":4.0,"type":"quantitative","axis":null},"text":{"field":"gate"}}},
  {"mark":{"type":"text","font":"Liberation Serif","fontWeight":"bold","fontSize":15.5},"encoding":{"x":{"datum":51.1,"type":"quantitative","axis":null},"y":{"datum":6.2,"type":"quantitative","axis":null},"text":{"field":"txt"}}}]}]},
{"width":166,"height":77,"resolve":{"axis":{"x":"independent","y":"independent"}},"layer":[
 {"data":{"name":"h"},"transform":[{"filter":"datum.p=='b2'&&datum.s=='f'"}],"mark":"area",
  "encoding":{"x":{"field":"c","type":"quantitative","scale":{"domain":[0,80]},"axis":{"title":"PE","values":[0,20,40,60,80],"labelExpr":"datum.value==0?'10⁰':datum.value==20?'10¹':datum.value==40?'10²':datum.value==60?'10³':'10⁴'"}},
  "y":{"field":"n","type":"quantitative","scale":{"domain":[0,8.4]},"axis":{"title":"Counts","values":[0,2,4,6,8]}}}},
 {"data":{"name":"h"},"transform":[{"filter":"datum.p=='b2'"}],"mark":{"type":"point","opacity":0},
  "encoding":{"x":{"field":"c","type":"quantitative","axis":{"orient":"bottom","title":null,"labels":false,"domain":false,"tickSize":2,"values":[6.02,9.54,12.04,13.98,15.56,16.9,18.06,19.08,26.02,29.54,32.04,33.98,35.56,36.9,38.06,39.08,46.02,49.54,52.04,53.98,55.56,56.9,58.06,59.08,66.02,69.54,72.04,73.98,75.56,76.9,78.06,79.08]}},
  "y":{"field":"n","type":"quantitative","axis":{"orient":"left","title":null,"labels":false,"domain":false,"tickSize":2,"values":[1,3,5,7]}}}},
 {"data":{"name":"h"},"transform":[{"filter":"datum.p=='b2'&&datum.s=='o'"}],"mark":{"type":"line","color":"#000","strokeWidth":0.9,"clip":true},"encoding":{"x":{"field":"c","type":"quantitative","axis":null},"y":{"field":"n","type":"quantitative","axis":null}}},
 {"data":{"name":"ann"},"transform":[{"filter":"datum.p=='b2'"}],"layer":[
  {"mark":{"type":"rule","color":"#000","strokeWidth":1},"encoding":{"x":{"field":"lo","type":"quantitative","axis":null},"x2":{"field":"hi"},"y":{"datum":4.8,"type":"quantitative","axis":null}}},
  {"transform":[{"fold":["lo","hi"],"as":["k","v"]}],"mark":{"type":"rule","color":"#000","strokeWidth":1.5},"encoding":{"x":{"field":"v","type":"quantitative","axis":null},"y":{"datum":3.93,"type":"quantitative","axis":null},"y2":{"datum":5.67}}},
  {"mark":{"type":"text","font":"Liberation Sans","fontSize":8},"encoding":{"x":{"datum":55.5,"type":"quantitative","axis":null},"y":{"datum":4.0,"type":"quantitative","axis":null},"text":{"field":"gate"}}},
  {"mark":{"type":"text","font":"Liberation Serif","fontWeight":"bold","fontSize":15.5},"encoding":{"x":{"datum":53.9,"type":"quantitative","axis":null},"y":{"datum":6.2,"type":"quantitative","axis":null},"text":{"field":"txt"}}}]}]},
{"width":167,"height":77,"resolve":{"axis":{"x":"independent","y":"independent"}},"layer":[
 {"data":{"name":"h"},"transform":[{"filter":"datum.p=='b3'&&datum.s=='f'"}],"mark":"area",
  "encoding":{"x":{"field":"c","type":"quantitative","scale":{"domain":[0,80]},"axis":{"title":"PerCP","values":[0,20,40,60,80],"labelExpr":"datum.value==0?'10⁰':datum.value==20?'10¹':datum.value==40?'10²':datum.value==60?'10³':'10⁴'"}},
  "y":{"field":"n","type":"quantitative","scale":{"domain":[0,8.4]},"axis":{"title":"Counts","values":[0,2,4,6,8]}}}},
 {"data":{"name":"h"},"transform":[{"filter":"datum.p=='b3'"}],"mark":{"type":"point","opacity":0},
  "encoding":{"x":{"field":"c","type":"quantitative","axis":{"orient":"bottom","title":null,"labels":false,"domain":false,"tickSize":2,"values":[6.02,9.54,12.04,13.98,15.56,16.9,18.06,19.08,26.02,29.54,32.04,33.98,35.56,36.9,38.06,39.08,46.02,49.54,52.04,53.98,55.56,56.9,58.06,59.08,66.02,69.54,72.04,73.98,75.56,76.9,78.06,79.08]}},
  "y":{"field":"n","type":"quantitative","axis":{"orient":"left","title":null,"labels":false,"domain":false,"tickSize":2,"values":[1,3,5,7]}}}},
 {"data":{"name":"ann"},"transform":[{"filter":"datum.p=='b3'"}],"mark":{"type":"text","font":"Liberation Serif","fontWeight":"bold","fontSize":15.5},"encoding":{"x":{"datum":23.7,"type":"quantitative","axis":null},"y":{"datum":6.1,"type":"quantitative","axis":null},"text":{"field":"txt"}}}]},
{"width":1,"height":50,"view":{"stroke":null},"data":{"values":[]},"mark":"point"},
{"width":1,"height":50,"view":{"stroke":null},"data":{"values":[]},"mark":"point"},
{"width":1,"height":50,"view":{"stroke":null},"data":{"values":[]},"mark":"point"},
{"width":1,"height":50,"view":{"stroke":null},"data":{"values":[]},"mark":"point"},
{"width":90,"height":79,"view":{"stroke":null},"data":{"values":[{"sec":"B","row":"Fresh DC"}]},"layer":[
 {"mark":{"type":"text","align":"left","font":"Liberation Serif","fontWeight":"bold","fontSize":17},"encoding":{"x":{"datum":0,"type":"quantitative","scale":{"domain":[0,1]},"axis":null},"y":{"datum":0.99,"type":"quantitative","scale":{"domain":[0,1]},"axis":null},"text":{"field":"sec"}}},
 {"mark":{"type":"text","align":"left","font":"Liberation Serif","fontWeight":"bold","fontSize":20.5},"encoding":{"x":{"datum":0,"type":"quantitative"},"y":{"datum":0.354,"type":"quantitative"},"text":{"field":"row"}}}]},
{"width":167,"height":79,"resolve":{"axis":{"x":"independent","y":"independent"}},"layer":[
 {"data":{"name":"h"},"transform":[{"filter":"datum.p=='c1'&&datum.s=='f'"}],"mark":"area",
  "encoding":{"x":{"field":"c","type":"quantitative","scale":{"domain":[0,80]},"axis":{"title":"PE","values":[0,20,40,60,80],"labelExpr":"datum.value==0?'10⁰':datum.value==20?'10¹':datum.value==40?'10²':datum.value==60?'10³':'10⁴'"}},
  "y":{"field":"n","type":"quantitative","scale":{"domain":[0,8.27]},"axis":{"title":"Counts","values":[0,2,4,6,8]}}}},
 {"data":{"name":"h"},"transform":[{"filter":"datum.p=='c1'"}],"mark":{"type":"point","opacity":0},
  "encoding":{"x":{"field":"c","type":"quantitative","axis":{"orient":"bottom","title":null,"labels":false,"domain":false,"tickSize":2,"values":[6.02,9.54,12.04,13.98,15.56,16.9,18.06,19.08,26.02,29.54,32.04,33.98,35.56,36.9,38.06,39.08,46.02,49.54,52.04,53.98,55.56,56.9,58.06,59.08,66.02,69.54,72.04,73.98,75.56,76.9,78.06,79.08]}},
  "y":{"field":"n","type":"quantitative","axis":{"orient":"left","title":null,"labels":false,"domain":false,"tickSize":2,"values":[1,3,5,7]}}}},
 {"data":{"name":"ann"},"transform":[{"filter":"datum.p=='c1'"}],"layer":[
  {"mark":{"type":"rule","color":"#000","strokeWidth":1},"encoding":{"x":{"field":"lo","type":"quantitative","axis":null},"x2":{"field":"hi"},"y":{"datum":4.7,"type":"quantitative","axis":null}}},
  {"transform":[{"fold":["lo","hi"],"as":["k","v"]}],"mark":{"type":"rule","color":"#000","strokeWidth":1.5},"encoding":{"x":{"field":"v","type":"quantitative","axis":null},"y":{"datum":3.86,"type":"quantitative","axis":null},"y2":{"datum":5.54}}},
  {"mark":{"type":"text","font":"Liberation Sans","fontSize":8},"encoding":{"x":{"datum":55.5,"type":"quantitative","axis":null},"y":{"datum":3.95,"type":"quantitative","axis":null},"text":{"field":"gate"}}},
  {"mark":{"type":"text","font":"Liberation Serif","fontWeight":"bold","fontSize":15.5},"encoding":{"x":{"datum":58.5,"type":"quantitative","axis":null},"y":{"datum":6.0,"type":"quantitative","axis":null},"text":{"field":"txt"}}}]}]},
{"width":166,"height":79,"resolve":{"axis":{"x":"independent","y":"independent"}},"layer":[
 {"data":{"name":"h"},"transform":[{"filter":"datum.p=='c2'&&datum.s=='f'"}],"mark":"area",
  "encoding":{"x":{"field":"c","type":"quantitative","scale":{"domain":[0,80]},"axis":{"title":"PE","values":[0,20,40,60,80],"labelExpr":"datum.value==0?'10⁰':datum.value==20?'10¹':datum.value==40?'10²':datum.value==60?'10³':'10⁴'"}},
  "y":{"field":"n","type":"quantitative","scale":{"domain":[0,10.2]},"axis":{"title":"Counts","values":[0,2,4,6,8,10]}}}},
 {"data":{"name":"h"},"transform":[{"filter":"datum.p=='c2'"}],"mark":{"type":"point","opacity":0},
  "encoding":{"x":{"field":"c","type":"quantitative","axis":{"orient":"bottom","title":null,"labels":false,"domain":false,"tickSize":2,"values":[6.02,9.54,12.04,13.98,15.56,16.9,18.06,19.08,26.02,29.54,32.04,33.98,35.56,36.9,38.06,39.08,46.02,49.54,52.04,53.98,55.56,56.9,58.06,59.08,66.02,69.54,72.04,73.98,75.56,76.9,78.06,79.08]}},
  "y":{"field":"n","type":"quantitative","axis":{"orient":"left","title":null,"labels":false,"domain":false,"tickSize":2,"values":[1,3,5,7,9]}}}},
 {"data":{"name":"h"},"transform":[{"filter":"datum.p=='c2'&&datum.s=='o'"}],"mark":{"type":"line","color":"#000","strokeWidth":0.9,"clip":true},"encoding":{"x":{"field":"c","type":"quantitative","axis":null},"y":{"field":"n","type":"quantitative","axis":null}}},
 {"data":{"name":"ann"},"transform":[{"filter":"datum.p=='c2'"}],"layer":[
  {"mark":{"type":"rule","color":"#000","strokeWidth":1},"encoding":{"x":{"field":"lo","type":"quantitative","axis":null},"x2":{"field":"hi"},"y":{"datum":5.9,"type":"quantitative","axis":null}}},
  {"transform":[{"fold":["lo","hi"],"as":["k","v"]}],"mark":{"type":"rule","color":"#000","strokeWidth":1.5},"encoding":{"x":{"field":"v","type":"quantitative","axis":null},"y":{"datum":4.98,"type":"quantitative","axis":null},"y2":{"datum":6.82}}},
  {"mark":{"type":"text","font":"Liberation Sans","fontSize":8},"encoding":{"x":{"datum":55.5,"type":"quantitative","axis":null},"y":{"datum":5.0,"type":"quantitative","axis":null},"text":{"field":"gate"}}},
  {"mark":{"type":"text","font":"Liberation Serif","fontWeight":"bold","fontSize":15.5},"encoding":{"x":{"datum":58.3,"type":"quantitative","axis":null},"y":{"datum":7.2,"type":"quantitative","axis":null},"text":{"field":"txt"}}}]}]},
{"width":167,"height":79,"resolve":{"axis":{"x":"independent","y":"independent"}},"layer":[
 {"data":{"name":"h"},"transform":[{"filter":"datum.p=='c3'&&datum.s=='f'"}],"mark":"area",
  "encoding":{"x":{"field":"c","type":"quantitative","scale":{"domain":[0,80]},"axis":{"title":"PerCP","values":[0,20,40,60,80],"labelExpr":"datum.value==0?'10⁰':datum.value==20?'10¹':datum.value==40?'10²':datum.value==60?'10³':'10⁴'"}},
  "y":{"field":"n","type":"quantitative","scale":{"domain":[0,10.2]},"axis":{"title":"Counts","values":[0,2,4,6,8,10]}}}},
 {"data":{"name":"h"},"transform":[{"filter":"datum.p=='c3'"}],"mark":{"type":"point","opacity":0},
  "encoding":{"x":{"field":"c","type":"quantitative","axis":{"orient":"bottom","title":null,"labels":false,"domain":false,"tickSize":2,"values":[6.02,9.54,12.04,13.98,15.56,16.9,18.06,19.08,26.02,29.54,32.04,33.98,35.56,36.9,38.06,39.08,46.02,49.54,52.04,53.98,55.56,56.9,58.06,59.08,66.02,69.54,72.04,73.98,75.56,76.9,78.06,79.08]}},
  "y":{"field":"n","type":"quantitative","axis":{"orient":"left","title":null,"labels":false,"domain":false,"tickSize":2,"values":[1,3,5,7,9]}}}},
 {"data":{"name":"ann"},"transform":[{"filter":"datum.p=='c3'"}],"mark":{"type":"text","font":"Liberation Serif","fontWeight":"bold","fontSize":15.5},"encoding":{"x":{"datum":21,"type":"quantitative","axis":null},"y":{"datum":7.3,"type":"quantitative","axis":null},"text":{"field":"txt"}}}]},
{"width":1,"height":53,"view":{"stroke":null},"data":{"values":[]},"mark":"point"},
{"width":1,"height":53,"view":{"stroke":null},"data":{"values":[]},"mark":"point"},
{"width":1,"height":53,"view":{"stroke":null},"data":{"values":[]},"mark":"point"},
{"width":1,"height":53,"view":{"stroke":null},"data":{"values":[]},"mark":"point"},
{"width":90,"height":78,"view":{"stroke":null},"data":{"values":[{"row":"Incubated DC"}]},"layer":[
 {"mark":{"type":"text","align":"left","font":"Liberation Serif","fontWeight":"bold","fontSize":20.5},"encoding":{"x":{"datum":0,"type":"quantitative","scale":{"domain":[0,1]},"axis":null},"y":{"datum":0.41,"type":"quantitative","scale":{"domain":[0,1]},"axis":null},"text":{"field":"row"}}}]},
{"width":167,"height":78,"resolve":{"axis":{"x":"independent","y":"independent"}},"layer":[
 {"data":{"name":"h"},"transform":[{"filter":"datum.p=='d1'&&datum.s=='f'"}],"mark":"area",
  "encoding":{"x":{"field":"c","type":"quantitative","scale":{"domain":[0,80]},"axis":{"title":"PE","values":[0,20,40,60,80],"labelExpr":"datum.value==0?'10⁰':datum.value==20?'10¹':datum.value==40?'10²':datum.value==60?'10³':'10⁴'"}},
  "y":{"field":"n","type":"quantitative","scale":{"domain":[0,10.2]},"axis":{"title":"Counts","values":[0,2,4,6,8,10]}}}},
 {"data":{"name":"h"},"transform":[{"filter":"datum.p=='d1'"}],"mark":{"type":"point","opacity":0},
  "encoding":{"x":{"field":"c","type":"quantitative","axis":{"orient":"bottom","title":null,"labels":false,"domain":false,"tickSize":2,"values":[6.02,9.54,12.04,13.98,15.56,16.9,18.06,19.08,26.02,29.54,32.04,33.98,35.56,36.9,38.06,39.08,46.02,49.54,52.04,53.98,55.56,56.9,58.06,59.08,66.02,69.54,72.04,73.98,75.56,76.9,78.06,79.08]}},
  "y":{"field":"n","type":"quantitative","axis":{"orient":"left","title":null,"labels":false,"domain":false,"tickSize":2,"values":[1,3,5,7,9]}}}},
 {"data":{"name":"h"},"transform":[{"filter":"datum.p=='d1'&&datum.s=='o'"}],"mark":{"type":"line","color":"#000","strokeWidth":0.9,"clip":true},"encoding":{"x":{"field":"c","type":"quantitative","axis":null},"y":{"field":"n","type":"quantitative","axis":null}}},
 {"data":{"name":"ann"},"transform":[{"filter":"datum.p=='d1'"}],"layer":[
  {"mark":{"type":"rule","color":"#000","strokeWidth":1},"encoding":{"x":{"field":"lo","type":"quantitative","axis":null},"x2":{"field":"hi"},"y":{"datum":5.9,"type":"quantitative","axis":null}}},
  {"transform":[{"fold":["lo","hi"],"as":["k","v"]}],"mark":{"type":"rule","color":"#000","strokeWidth":1.5},"encoding":{"x":{"field":"v","type":"quantitative","axis":null},"y":{"datum":4.98,"type":"quantitative","axis":null},"y2":{"datum":6.82}}},
  {"mark":{"type":"text","font":"Liberation Sans","fontSize":8},"encoding":{"x":{"datum":55.5,"type":"quantitative","axis":null},"y":{"datum":5.0,"type":"quantitative","axis":null},"text":{"field":"gate"}}},
  {"mark":{"type":"text","font":"Liberation Serif","fontWeight":"bold","fontSize":15.5},"encoding":{"x":{"datum":53.9,"type":"quantitative","axis":null},"y":{"datum":7.5,"type":"quantitative","axis":null},"text":{"field":"txt"}}}]}]},
{"width":166,"height":78,"resolve":{"axis":{"x":"independent","y":"independent"}},"layer":[
 {"data":{"name":"h"},"transform":[{"filter":"datum.p=='d2'&&datum.s=='f'"}],"mark":"area",
  "encoding":{"x":{"field":"c","type":"quantitative","scale":{"domain":[0,80]},"axis":{"title":"PE","values":[0,20,40,60,80],"labelExpr":"datum.value==0?'10⁰':datum.value==20?'10¹':datum.value==40?'10²':datum.value==60?'10³':'10⁴'"}},
  "y":{"field":"n","type":"quantitative","scale":{"domain":[0,10.2]},"axis":{"title":"Counts","values":[0,2,4,6,8,10]}}}},
 {"data":{"name":"h"},"transform":[{"filter":"datum.p=='d2'"}],"mark":{"type":"point","opacity":0},
  "encoding":{"x":{"field":"c","type":"quantitative","axis":{"orient":"bottom","title":null,"labels":false,"domain":false,"tickSize":2,"values":[6.02,9.54,12.04,13.98,15.56,16.9,18.06,19.08,26.02,29.54,32.04,33.98,35.56,36.9,38.06,39.08,46.02,49.54,52.04,53.98,55.56,56.9,58.06,59.08,66.02,69.54,72.04,73.98,75.56,76.9,78.06,79.08]}},
  "y":{"field":"n","type":"quantitative","axis":{"orient":"left","title":null,"labels":false,"domain":false,"tickSize":2,"values":[1,3,5,7,9]}}}},
 {"data":{"name":"h"},"transform":[{"filter":"datum.p=='d2'&&datum.s=='o'"}],"mark":{"type":"line","color":"#000","strokeWidth":0.9,"clip":true},"encoding":{"x":{"field":"c","type":"quantitative","axis":null},"y":{"field":"n","type":"quantitative","axis":null}}},
 {"data":{"name":"ann"},"transform":[{"filter":"datum.p=='d2'"}],"layer":[
  {"mark":{"type":"rule","color":"#000","strokeWidth":1},"encoding":{"x":{"field":"lo","type":"quantitative","axis":null},"x2":{"field":"hi"},"y":{"datum":5.9,"type":"quantitative","axis":null}}},
  {"transform":[{"fold":["lo","hi"],"as":["k","v"]}],"mark":{"type":"rule","color":"#000","strokeWidth":1.5},"encoding":{"x":{"field":"v","type":"quantitative","axis":null},"y":{"datum":4.98,"type":"quantitative","axis":null},"y2":{"datum":6.82}}},
  {"mark":{"type":"text","font":"Liberation Sans","fontSize":8},"encoding":{"x":{"datum":55.5,"type":"quantitative","axis":null},"y":{"datum":5.0,"type":"quantitative","axis":null},"text":{"field":"gate"}}},
  {"mark":{"type":"text","font":"Liberation Serif","fontWeight":"bold","fontSize":15.5},"encoding":{"x":{"datum":51.7,"type":"quantitative","axis":null},"y":{"datum":7.7,"type":"quantitative","axis":null},"text":{"field":"txt"}}}]}]},
{"width":167,"height":78,"resolve":{"axis":{"x":"independent","y":"independent"}},"layer":[
 {"data":{"name":"h"},"transform":[{"filter":"datum.p=='d3'&&datum.s=='f'"}],"mark":"area",
  "encoding":{"x":{"field":"c","type":"quantitative","scale":{"domain":[0,80]},"axis":{"title":"PerCP","values":[0,20,40,60,80],"labelExpr":"datum.value==0?'10⁰':datum.value==20?'10¹':datum.value==40?'10²':datum.value==60?'10³':'10⁴'"}},
  "y":{"field":"n","type":"quantitative","scale":{"domain":[0,10.2]},"axis":{"title":"Counts","values":[0,2,4,6,8,10]}}}},
 {"data":{"name":"h"},"transform":[{"filter":"datum.p=='d3'"}],"mark":{"type":"point","opacity":0},
  "encoding":{"x":{"field":"c","type":"quantitative","axis":{"orient":"bottom","title":null,"labels":false,"domain":false,"tickSize":2,"values":[6.02,9.54,12.04,13.98,15.56,16.9,18.06,19.08,26.02,29.54,32.04,33.98,35.56,36.9,38.06,39.08,46.02,49.54,52.04,53.98,55.56,56.9,58.06,59.08,66.02,69.54,72.04,73.98,75.56,76.9,78.06,79.08]}},
  "y":{"field":"n","type":"quantitative","axis":{"orient":"left","title":null,"labels":false,"domain":false,"tickSize":2,"values":[1,3,5,7,9]}}}},
 {"data":{"name":"ann"},"transform":[{"filter":"datum.p=='d3'"}],"mark":{"type":"text","font":"Liberation Serif","fontWeight":"bold","fontSize":15.5},"encoding":{"x":{"datum":21.3,"type":"quantitative","axis":null},"y":{"datum":7.6,"type":"quantitative","axis":null},"text":{"field":"txt"}}}]}
]
}
